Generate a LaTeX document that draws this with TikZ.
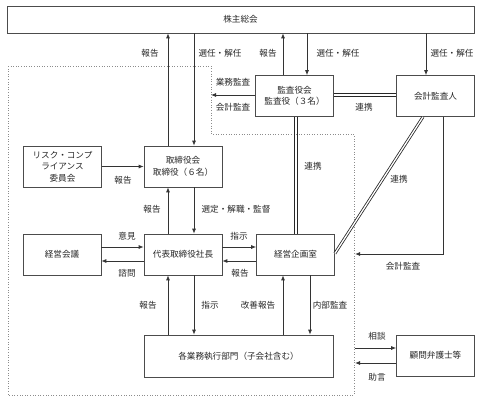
\documentclass[tikz,border=0pt]{standalone}
\usepackage{fontspec}
\newfontfamily\cjk{Noto Sans CJK JP}
\usetikzlibrary{arrows.meta}

\tikzset{
  box/.style={draw=black!70, line width=0.7pt, minimum width=78pt, minimum height=41pt, inner sep=1pt, align=center},
  lbl/.style={inner sep=1pt},
  arr/.style={draw=black!80, line width=0.8pt, -{Latex[length=5pt,width=4pt]}},
  link/.style={draw=black!85, double=white, line width=0.8pt, double distance=1.3pt},
  twin/.style={draw=black!85, line width=0.8pt},
  zone/.style={draw=black!45, dotted, line width=0.6pt}
}

\begin{document}
\begin{tikzpicture}[x=1pt, y=-1pt, every node/.style={font=\cjk\fontsize{8.6}{11.5}\selectfont, text=black!85}]
        \useasboundingbox (0,0) rectangle (481,399);
        % dotted boundary
        \coordinate (z1) at (8,66);
        \coordinate (z2) at (211,66);
        \coordinate (z3) at (211,134);
        \coordinate (z4) at (354,134);
        \coordinate (z5) at (354,395);
        \coordinate (z6) at (8,395);
        \draw[zone] (z1) -- (z2) -- (z3) -- (z4) -- (z5) -- (z6) -- cycle;
        % boxes
        \node[box, minimum width=467pt, minimum height=27pt] (kabu) at (240.5,19.5) {株主総会};
        \node[box] (kansa) at (294.5,96) {監査役会\\監査役（３名）};
        \node[box] (kaikei) at (435.5,96) {会計監査人};
        \node[box] (risk) at (62.5,166.5) {リスク・コンプ\\ライアンス\\委員会};
        \node[box] (tori) at (183,166.5) {取締役会\\取締役（６名）};
        \node[box] (kaigi) at (62,254.5) {経営会議};
        \node[box] (daihyo) at (183,254.5) {代表取締役社長};
        \node[box] (kikaku) at (295.5,254.5) {経営企画室};
        \node[box, minimum width=189pt, minimum height=42pt] (gyomu) at (238.5,356) {各業務執行部門（子会社含む）};
        \node[box] (komon) at (435.5,355.5) {顧問弁護士等};
        % free ends on the boundary
        \coordinate (kansaend) at (211,95);
        \coordinate (kaikeiend) at (355,254);
        \coordinate (sodan) at (355,348);
        \coordinate (jogen) at (355,363);
        % shareholders
        \draw[arr] ([xshift=-15pt]tori.north) -- ([xshift=-15pt]tori.north |- kabu.south);
        \draw[arr] ([xshift=11pt]tori.north |- kabu.south) -- ([xshift=11pt]tori.north);
        \draw[arr] ([xshift=-11.5pt]kansa.north) -- ([xshift=-11.5pt]kansa.north |- kabu.south);
        \draw[arr] ([xshift=12.5pt]kansa.north |- kabu.south) -- ([xshift=12.5pt]kansa.north);
        \draw[arr] ([xshift=-9.5pt]kaikei.north |- kabu.south) -- ([xshift=-9.5pt]kaikei.north);
        \node[lbl] (l1) at (150,53) {報告};
        \node[lbl] (l2) at (220,53) {選任・解任};
        \node[lbl] (l3) at (268,53) {報告};
        \node[lbl] (l4) at (338,53) {選任・解任};
        \node[lbl] (l5) at (452,53) {選任・解任};
        % audit
        \draw[arr] ([yshift=1pt]kansa.west) -- (kansaend);
        \node[lbl] (l6) at (233,82) {業務監査};
        \node[lbl] (l7) at (233,107) {会計監査};
        \draw[twin] ([yshift=2.3pt]kansa.east) -- ([yshift=2.3pt]kaikei.west);
        \draw[twin] ([yshift=-0.2pt]kansa.east) -- ([yshift=-0.2pt]kaikei.west);
        \node[lbl] (l8) at (364,107) {連携};
        \draw[twin] ([xshift=0.3pt]kansa.south) -- ([xshift=0.3pt]kansa.south |- kikaku.north);
        \draw[twin] ([xshift=2.8pt]kansa.south) -- ([xshift=2.8pt]kansa.south |- kikaku.north);
        \node[lbl] (l9) at (313,166) {連携};
        \draw[link] ([xshift=-12.5pt]kaikei.south) -- ([yshift=1pt]kikaku.east);
        \node[lbl] (l10) at (399,179) {連携};
        \draw[arr] ([xshift=7.5pt]kaikei.south) |- (kaikeiend);
        \node[lbl] (l11) at (403,266) {会計監査};
        % board
        \draw[arr] (risk) -- (tori);
        \node[lbl] (l12) at (123,180) {報告};
        \draw[arr] ([xshift=-15pt]daihyo.north) -- ([xshift=-15pt]tori.south);
        \draw[arr] ([xshift=11pt]tori.south) -- ([xshift=11pt]daihyo.north);
        \node[lbl] (l13) at (152,209) {報告};
        \node[lbl] (l14) at (236,209) {選定・解職・監督};
        % president
        \draw[arr] ([yshift=7.5pt]kaigi.east) -- ([yshift=7.5pt]daihyo.west);
        \draw[arr] ([yshift=-6.5pt]daihyo.west) -- ([yshift=-6.5pt]kaigi.east);
        \node[lbl] (l15) at (127,236) {意見};
        \node[lbl] (l16) at (127,273) {諮問};
        \draw[arr] ([yshift=7.5pt]daihyo.east) -- ([yshift=7.5pt]kikaku.west);
        \draw[arr] ([yshift=-6.5pt]kikaku.west) -- ([yshift=-6.5pt]daihyo.east);
        \node[lbl] (l17) at (239,236) {指示};
        \node[lbl] (l18) at (240,273) {報告};
        % divisions
        \draw[arr] ([xshift=-15pt]daihyo.south |- gyomu.north) -- ([xshift=-15pt]daihyo.south);
        \draw[arr] ([xshift=11pt]daihyo.south) -- ([xshift=11pt]daihyo.south |- gyomu.north);
        \node[lbl] (l19) at (148,305) {報告};
        \node[lbl] (l20) at (210,305) {指示};
        \draw[arr] ([xshift=-12.5pt]kikaku.south |- gyomu.north) -- ([xshift=-12.5pt]kikaku.south);
        \draw[arr] ([xshift=14.5pt]kikaku.south) -- ([xshift=14.5pt]kikaku.south |- gyomu.north);
        \node[lbl] (l21) at (258,305) {改善報告};
        \node[lbl] (l22) at (330,305) {内部監査};
        % lawyers
        \draw[arr] (sodan) -- (sodan -| komon.west);
        \draw[arr] (jogen -| komon.west) -- (jogen);
        \node[lbl] (l23) at (377,336) {相談};
        \node[lbl] (l24) at (377,377) {助言};
    \end{tikzpicture}
\end{document}
